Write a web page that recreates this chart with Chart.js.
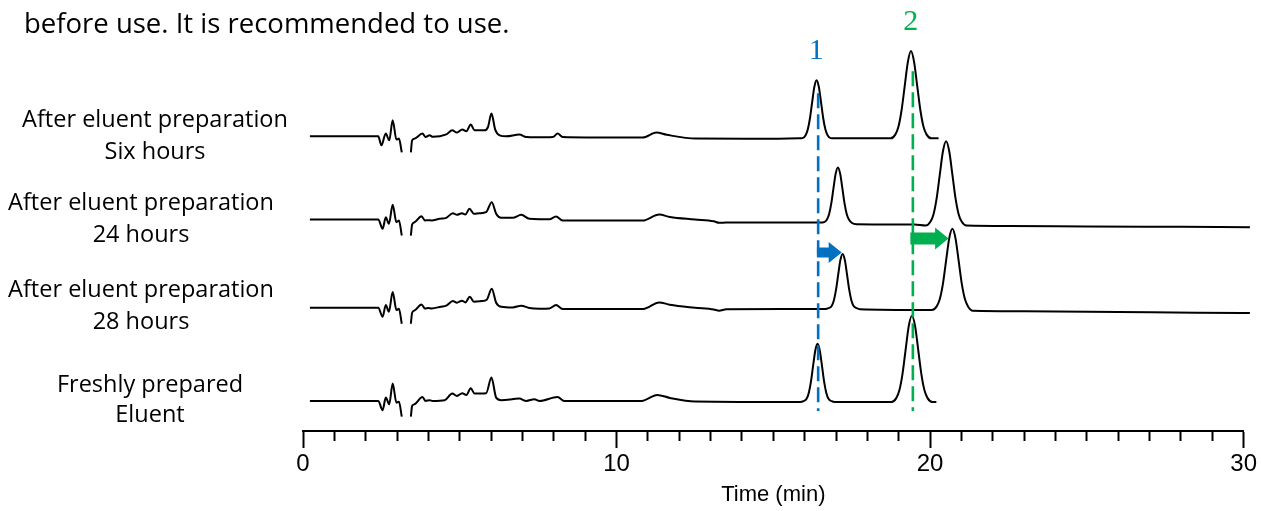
<!DOCTYPE html>
<html>
<head>
<meta charset="utf-8">
<title>Eluent stability chromatograms</title>
<script src="https://cdn.jsdelivr.net/npm/chart.js@4.4.1/dist/chart.umd.min.js"></script>
<style>
  html, body { margin: 0; padding: 0; background: #fff; }
  #wrap { width: 1261px; height: 511px; }
</style>
</head>
<body>
<div id="wrap"><canvas id="chrom" width="1261" height="511"></canvas></div>
<script>
// --- 1. Data ---
// time in min, signal relative to each trace's own baseline (up = positive)

const time6h = [0.22, 2.40, 2.50, 2.64, 2.75, 2.86, 2.98, 3.06, 3.15, 3.30, 3.44, 3.48, 3.56, 3.81, 3.91, 4.04, 4.14, 4.57, 4.76, 4.91,
  5.08, 5.21, 5.35, 5.47, 5.79, 5.90, 6.01, 6.13, 6.27, 6.48, 6.90, 7.12, 7.43, 7.97, 8.12, 8.28, 10.10, 10.83, 11.27, 11.60,
  12.53, 14.50, 15.83, 15.93, 16.03, 16.10, 16.17, 16.24, 16.31, 16.38, 16.45, 16.52, 16.59, 16.66, 16.73, 16.83, 16.93,
  18.74, 18.89, 18.99, 19.09, 19.19, 19.29, 19.39, 19.49, 19.59, 19.69, 19.79, 19.89, 20.04, 20.27];
const signal6h = [0, 0, -9, 2.7, -4, 16, -3.3, -2.3, -16, null, -16, -4, -2.3, 2.7, -0.7, 1, -0.5, 2, 6, 3.7,
  6.7, 5, 11.7, 6, 6, 9.3, 22.7, 6.7, 1, 0, 1.7, -0.7, -1, -0.7, 2.7, -0.7, -1.3, -1.3, 3.7, 1.5,
  -2.3, -2.5, -2, -1.8, 1.1, 7, 18.3, 34.4, 49.6, 56, 49.6, 34.4, 18.3, 7, 1.1, -1.8, -2,
  -2, 1.7, 9.5, 26, 50, 74, 85, 74, 50, 26, 9.5, 1.7, -2, -2];

const time24h = [0.22, 2.40, 2.54, 2.64, 2.74, 2.86, 2.98, 3.06, 3.15, 3.30, 3.44, 3.48, 3.56, 3.78, 3.89, 4.00, 4.10, 4.36, 4.57, 4.78,
  4.91, 5.07, 5.18, 5.31, 5.45, 5.63, 5.84, 6.02, 6.16, 6.32, 6.69, 6.96, 7.22, 7.54, 7.86, 8.07, 8.28, 9.45, 10.83, 11.36,
  11.70, 12.50, 13.10, 13.27, 13.50, 15.60, 16.51, 16.61, 16.71, 16.78, 16.85, 16.92, 16.99, 17.06, 17.13, 17.20, 17.27, 17.34,
  17.41, 17.51, 17.65, 19.50, 19.86, 20.01, 20.11, 20.21, 20.31, 20.41, 20.51, 20.61, 20.71, 20.81, 20.91, 21.01, 21.16,
  22.50, 25.00, 28.00, 30.20];
const signal24h = [0, 0, -9.3, 2.3, -4.3, 14.7, -2.7, -1, -16, null, -16, -5, -2.7, 3.3, -1, -0.7, -1, 0.7, 1.7, 6.3,
  4.7, 6.3, 5, 10.7, 5.7, 6.3, 7.3, 17.3, 5.7, 1.7, 1.7, 4.7, 0.7, 0.3, 0.3, 3, -1, -1, -1, 5,
  2.5, 0, -1.8, -3.3, -3, -3, -3, -2.8, 0, 5.5, 16.3, 31.5, 46, 52, 46, 31.5, 16.3, 5.5,
  0, -3.5, -4.7, -5, -6, -2.3, 5.3, 21.3, 45, 68.1, 78, 68.1, 45, 21.3, 5.3, -2.3, -6,
  -6.5, -7, -7.3, -7.7];

const time28h = [0.22, 2.40, 2.54, 2.64, 2.74, 2.86, 2.98, 3.06, 3.15, 3.30, 3.44, 3.48, 3.56, 3.78, 3.89, 4.00, 4.10, 4.40, 4.57, 4.78,
  4.91, 5.07, 5.18, 5.32, 5.45, 5.70, 5.86, 6.02, 6.16, 6.32, 6.69, 6.96, 7.22, 7.54, 7.86, 8.07, 8.28, 9.45, 10.85, 11.36,
  11.70, 12.50, 13.10, 13.27, 13.50, 16.10, 16.66, 16.76, 16.86, 16.93, 17.00, 17.07, 17.14, 17.21, 17.28, 17.35, 17.42, 17.49,
  17.56, 17.66, 17.76, 19.90, 20.06, 20.21, 20.31, 20.41, 20.51, 20.61, 20.71, 20.81, 20.91, 21.01, 21.11, 21.21, 21.36,
  23.00, 26.00, 28.50, 30.20];
const signal28h = [0, 0, -9, 2.7, -4, 15.7, -2.3, -1, -16, null, -16, -5, -2.7, 3.3, -0.7, -0.3, -0.7, 1, 2, 6.7,
  5, 7, 5.3, 11, 6, 6.7, 8, 19, 5, 1, 0.3, 2, -0.3, -1, -0.7, 2.7, -1.3, -1.3, -1.3, 5.3,
  3, 0, -1.8, -3, -1.5, -1.3, -1.3, -0.5, 1.7, 7.2, 18, 33.2, 47.7, 53.7, 47.7, 33.2, 18, 7.2,
  1.7, -0.5, -1.5, -2.3, -2.3, 1.3, 8.6, 24, 46.9, 69.2, 78.7, 69.2, 46.9, 24, 8.6, 1.3, -3,
  -3.5, -4.3, -5, -5.3];

const timeFresh = [0.22, 2.40, 2.54, 2.64, 2.75, 2.86, 2.98, 3.06, 3.15, 3.30, 3.44, 3.48, 3.56, 3.81, 3.91, 4.04, 4.14, 4.52, 4.76, 4.91,
  5.08, 5.21, 5.35, 5.47, 5.84, 6.01, 6.16, 6.32, 6.90, 7.12, 7.38, 7.54, 8.12, 8.33, 10.80, 11.30, 11.70, 12.50, 15.86, 15.96,
  16.06, 16.13, 16.20, 16.27, 16.34, 16.41, 16.48, 16.55, 16.62, 16.69, 16.76, 16.86, 16.96, 18.77, 18.92, 19.02, 19.12, 19.22,
  19.32, 19.42, 19.52, 19.62, 19.72, 19.82, 19.92, 20.07, 20.20];
const signalFresh = [0, 0, -9.3, 3.3, -3.3, 17.3, -1.7, -0.7, -15.7, null, -15.7, -5, -3.3, 4, 0, 0.7, 0, 0.7, 7.3, 5,
  7.7, 6, 12.7, 7.3, 7.7, 23.3, 3.3, 0.7, 2.3, 0, 1.7, 0, 4, 0, 0, 6, 3, -0.5, -1, -0.2,
  2.1, 8, 19.3, 35.4, 50.6, 57, 50.6, 35.4, 19.3, 8, 2.1, -0.2, -1, -1, 2.8, 10.6, 27, 51.2,
  74.9, 85, 74.9, 51.2, 27, 10.6, 2.8, -1, -1];

const traceLabels = [
  ["After eluent preparation", "Six hours"],
  ["After eluent preparation", "24 hours"],
  ["After eluent preparation", "28 hours"],
  ["Freshly prepared", "Eluent"]
];
const peakNames = ["1", "2"];
const peakTimes = [16.43, 19.45];        // reference retention times (fresh eluent)
const shiftFrom = [16.39, 19.37];        // arrows: start / end of the shift
const shiftTo = [17.18, 20.59];
const headline = "before use. It is recommended to use.";

// --- 2. Layout (pixel-ish units on the hidden y axis, 0 = time axis) ---
const traceBase = [294, 211, 123, 30];
const labelPos = [
  { x: 155, y: [120, 152] },
  { x: 141, y: [203, 235] },
  { x: 141, y: [290, 322] },
  { x: 150, y: [385, 415] }
];
const peakColors = ["#0070C0", "#00B050"];
const markerTop = [337, 359];
const markerBottom = 20;
const peakLabelY = [379, 408];
const arrowY = [178, 192];
const arrowShaft = [5, 6];
const arrowHead = [10.5, 11];
const arrowHeadLen = [13, 13.5];
const textFont = '"Open Sans", "Noto Sans", sans-serif';

function buildPoints(times, signals, base) {
  return times.map((t, i) => ({ x: t, y: signals[i] === null ? null : base + signals[i] }));
}

const traces = [
  buildPoints(time6h, signal6h, traceBase[0]),
  buildPoints(time24h, signal24h, traceBase[1]),
  buildPoints(time28h, signal28h, traceBase[2]),
  buildPoints(timeFresh, signalFresh, traceBase[3])
];

// --- 3. Annotation plugin (labels, dashed markers, shift arrows) ---
const annotations = {
  id: 'annotations',
  afterDatasetsDraw(chart) {
    const ctx = chart.ctx;
    const xs = chart.scales.x, ys = chart.scales.y;
    ctx.save();

    // dashed retention-time markers + peak numbers
    peakTimes.forEach((t, i) => {
      const px = xs.getPixelForValue(t);
      ctx.strokeStyle = peakColors[i];
      ctx.lineWidth = 2.6;
      ctx.setLineDash([15, 6]);
      ctx.beginPath();
      ctx.moveTo(px, ys.getPixelForValue(markerTop[i]));
      ctx.lineTo(px, ys.getPixelForValue(markerBottom));
      ctx.stroke();

      ctx.setLineDash([]);
      ctx.fillStyle = peakColors[i];
      ctx.font = '30px "Liberation Serif", "DejaVu Serif", serif';
      ctx.textAlign = 'center';
      ctx.textBaseline = 'middle';
      ctx.fillText(peakNames[i], px - 2, ys.getPixelForValue(peakLabelY[i]));
    });

    // block arrows showing the retention shift
    shiftFrom.forEach((t, i) => {
      const x0 = xs.getPixelForValue(t);
      const x1 = xs.getPixelForValue(shiftTo[i]);
      const cy = ys.getPixelForValue(arrowY[i]);
      const xh = x1 - arrowHeadLen[i];
      ctx.fillStyle = peakColors[i];
      ctx.beginPath();
      ctx.moveTo(x0, cy - arrowShaft[i]);
      ctx.lineTo(xh, cy - arrowShaft[i]);
      ctx.lineTo(xh, cy - arrowHead[i]);
      ctx.lineTo(x1, cy);
      ctx.lineTo(xh, cy + arrowHead[i]);
      ctx.lineTo(xh, cy + arrowShaft[i]);
      ctx.lineTo(x0, cy + arrowShaft[i]);
      ctx.closePath();
      ctx.fill();
    });

    // trace names on the left
    ctx.fillStyle = '#000';
    ctx.font = '23.5px ' + textFont;
    ctx.textAlign = 'center';
    ctx.textBaseline = 'middle';
    traceLabels.forEach((lines, i) => {
      lines.forEach((line, j) => ctx.fillText(line, labelPos[i].x, labelPos[i].y[j]));
    });

    // leftover sentence from the page above
    ctx.textAlign = 'left';
    ctx.textBaseline = 'alphabetic';
    ctx.font = '27.5px ' + textFont;
    ctx.fillText(headline, 24, 33);

    ctx.restore();
  }
};

// --- 4. Chart ---
const tickFont = { family: '"Liberation Sans", Arial, sans-serif', size: 24, lineHeight: 1 };

new Chart(document.getElementById('chrom'), {
  type: 'line',
  data: {
    datasets: traces.map(pts => ({
      data: pts,
      borderColor: '#000',
      borderWidth: 2,
      pointRadius: 0,
      fill: false,
      spanGaps: false,
      cubicInterpolationMode: 'monotone',
      clip: false
    }))
  },
  options: {
    responsive: false,
    animation: false,
    devicePixelRatio: 1,
    layout: { padding: { left: 303, right: 15, top: 0, bottom: 3 } },
    plugins: { legend: { display: false }, tooltip: { enabled: false } },
    scales: {
      x: {
        type: 'linear',
        min: 0,
        max: 30,
        border: { display: true, color: '#000', width: 2 },
        grid: {
          drawOnChartArea: false,
          drawTicks: true,
          tickLength: 17,
          tickWidth: 2,
          tickColor: '#000',
          // minor ticks drawn short by cutting the dash after 9px
          tickBorderDash: ctx => (ctx.tick && ctx.tick.value % 10 === 0) ? [] : [9, 40]
        },
        ticks: {
          stepSize: 1,
          autoSkip: false,
          maxRotation: 0,
          padding: 4,
          color: '#000',
          font: tickFont,
          callback: v => (v % 10 === 0 ? v : '')
        },
        title: {
          display: true,
          text: 'Time (min)',
          color: '#000',
          font: { family: tickFont.family, size: 22, lineHeight: 1 },
          padding: { top: 4, bottom: 2 }
        }
      },
      y: { display: false, min: 0, max: 430 }
    }
  },
  plugins: [annotations]
});
</script>
</body>
</html>
